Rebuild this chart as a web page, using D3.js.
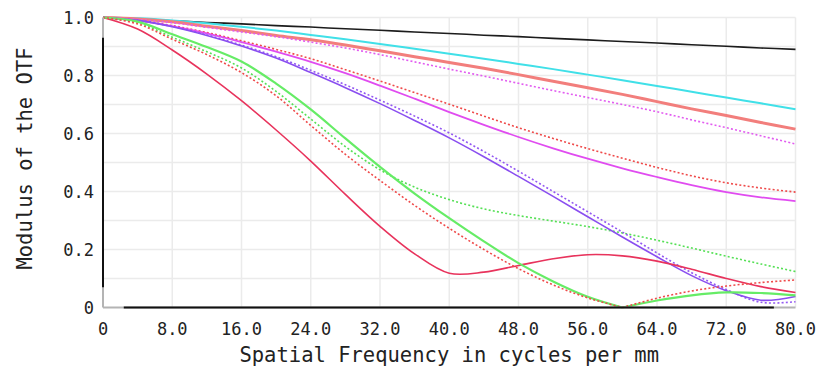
<!DOCTYPE html>
<html>
<head>
<meta charset="utf-8">
<script src="https://cdn.jsdelivr.net/npm/d3@7"></script>
<style>
  html, body { margin: 0; padding: 0; background: #fff; }
  svg { display: block; font-family: "DejaVu Sans Mono", monospace; }
</style>
</head>
<body>
<div id="chart"></div>
<script>
/* MTF plot – modulus of the OTF vs spatial frequency */

/* ── Data ────────────────────────────────────────────────────────────── */
const freq = [0, 4, 8, 12, 16, 20, 24, 28, 32, 36, 40, 44, 48, 52, 56, 60, 64, 68, 72, 76, 80];

const diffLimit  = [1, 0.994, 0.989, 0.983, 0.978, 0.972, 0.967, 0.961, 0.956, 0.950, 0.945, 0.939, 0.934, 0.928, 0.923, 0.917, 0.912, 0.906, 0.901, 0.895, 0.890];
const cyanT      = [1, 0.997, 0.990, 0.980, 0.968, 0.955, 0.940, 0.925, 0.909, 0.892, 0.875, 0.858, 0.840, 0.822, 0.803, 0.784, 0.764, 0.744, 0.724, 0.704, 0.684];
const salmonT    = [1, 0.995, 0.985, 0.970, 0.955, 0.938, 0.923, 0.905, 0.885, 0.865, 0.845, 0.825, 0.803, 0.780, 0.758, 0.735, 0.710, 0.685, 0.662, 0.638, 0.615];
const magentaS   = [1, 0.993, 0.982, 0.966, 0.950, 0.934, 0.915, 0.895, 0.872, 0.847, 0.822, 0.798, 0.773, 0.748, 0.724, 0.700, 0.675, 0.647, 0.620, 0.592, 0.564];
const redS1      = [1, 0.990, 0.972, 0.948, 0.920, 0.890, 0.858, 0.820, 0.781, 0.741, 0.701, 0.660, 0.620, 0.583, 0.548, 0.515, 0.483, 0.454, 0.430, 0.412, 0.398];
const magentaT   = [1, 0.990, 0.970, 0.945, 0.915, 0.882, 0.847, 0.808, 0.765, 0.720, 0.674, 0.630, 0.588, 0.549, 0.513, 0.480, 0.450, 0.422, 0.398, 0.380, 0.367];
const purpleT    = [1, 0.990, 0.968, 0.938, 0.902, 0.860, 0.810, 0.758, 0.703, 0.645, 0.585, 0.520, 0.452, 0.383, 0.313, 0.243, 0.175, 0.110, 0.058, 0.025, 0.038];
const purpleS    = [1, 0.990, 0.969, 0.940, 0.905, 0.865, 0.818, 0.768, 0.715, 0.660, 0.602, 0.538, 0.470, 0.400, 0.330, 0.260, 0.188, 0.120, 0.062, 0.018, 0.020];
const greenT     = [1, 0.986, 0.942, 0.898, 0.848, 0.772, 0.683, 0.583, 0.485, 0.393, 0.308, 0.228, 0.153, 0.090, 0.037, 0.000, 0.024, 0.042, 0.052, 0.050, 0.042];
const greenS     = [1, 0.982, 0.932, 0.882, 0.826, 0.745, 0.650, 0.555, 0.475, 0.415, 0.372, 0.340, 0.317, 0.298, 0.279, 0.257, 0.232, 0.205, 0.177, 0.150, 0.124];
const redS2      = [1, 0.978, 0.925, 0.872, 0.810, 0.730, 0.628, 0.528, 0.438, 0.352, 0.273, 0.200, 0.134, 0.078, 0.033, 0.000, 0.032, 0.057, 0.074, 0.086, 0.095];
const crimsonT   = [1, 0.960, 0.888, 0.805, 0.713, 0.612, 0.505, 0.390, 0.280, 0.185, 0.118, 0.122, 0.145, 0.168, 0.182, 0.178, 0.160, 0.132, 0.100, 0.072, 0.052];

const xTicks = [0, 8, 16, 24, 32, 40, 48, 56, 64, 72, 80];
const yTicks = [0, 0.2, 0.4, 0.6, 0.8, 1.0];
const yGrid  = [0.1, 0.2, 0.3, 0.4, 0.5, 0.6, 0.7, 0.8, 0.9, 1.0];

// draw order: back to front
const series = [
  { values: diffLimit, color: '#1c1c1c', width: 1.6 },
  { values: cyanT,     color: '#40e0e8', width: 2 },
  { values: salmonT,   color: '#f27e7c', width: 3 },
  { values: magentaS,  color: '#e25cf0', width: 1.6, dash: '2,2.2' },
  { values: redS1,     color: '#ef4a4a', width: 1.6, dash: '2,2.2' },
  { values: magentaT,  color: '#e04cf0', width: 1.8 },
  { values: greenS,    color: '#55e055', width: 1.6, dash: '2,2.2' },
  { values: purpleS,   color: '#9358f2', width: 1.6, dash: '2,2.2' },
  { values: purpleT,   color: '#8a4ef0', width: 1.6 },
  { values: crimsonT,  color: '#e8335c', width: 1.6 },
  { values: greenT,    color: '#66ec66', width: 2.2, kink: 60 },
  { values: redS2,     color: '#ef4a4a', width: 1.6, dash: '2,2.2', kink: 60 }
];

/* ── Layout ──────────────────────────────────────────────────────────── */
const TW = 817, TH = 366;
const X0 = 103, X1 = 795.5, Y0 = 307.5, Y1 = 17.5;

const x = d3.scaleLinear().domain([0, 80]).range([X0, X1]);
const y = d3.scaleLinear().domain([0, 1]).range([Y0, Y1]);

const svg = d3.select('#chart').append('svg')
  .attr('width', TW).attr('height', TH);

/* ── Grid ────────────────────────────────────────────────────────────── */
const grid = svg.append('g').attr('stroke', '#ebebeb').attr('stroke-width', 1.5);
grid.selectAll('line.v').data(xTicks.slice(1)).join('line')
  .attr('class', 'v')
  .attr('x1', d => x(d)).attr('x2', d => x(d))
  .attr('y1', y(0)).attr('y2', y(1));
grid.selectAll('line.h').data(yGrid).join('line')
  .attr('class', 'h')
  .attr('x1', x(0)).attr('x2', x(80))
  .attr('y1', d => y(d)).attr('y2', d => y(d));

/* ── Curves ──────────────────────────────────────────────────────────── */
const line = d3.line()
  .x(d => x(d[0]))
  .y(d => y(d[1]))
  .curve(d3.curveCatmullRom.alpha(0.5));

// split a series at its zero crossing so the V keeps a sharp corner
function segments(s) {
  const pts = freq.map((f, i) => [f, s.values[i]]);
  if (s.kink == null) return [pts];
  return [pts.filter(p => p[0] <= s.kink), pts.filter(p => p[0] >= s.kink)];
}

const curves = svg.append('g').attr('fill', 'none');
series.forEach(s => {
  segments(s).forEach(seg => {
    curves.append('path')
      .attr('d', line(seg))
      .attr('stroke', s.color)
      .attr('stroke-width', s.width)
      .attr('stroke-dasharray', s.dash || null)
      .attr('stroke-linejoin', 'round');
  });
});

/* ── Frame (grey ends, black middle) ─────────────────────────────────── */
const frame = svg.append('g').attr('stroke-width', 2);
frame.append('line').attr('stroke', '#b4b4b4')
  .attr('x1', x(0)).attr('x2', x(80)).attr('y1', y(0)).attr('y2', y(0));
frame.append('line').attr('stroke', '#111')
  .attr('x1', x(2.4)).attr('x2', x(77.5)).attr('y1', y(0)).attr('y2', y(0));
frame.append('line').attr('stroke', '#b4b4b4')
  .attr('x1', x(0)).attr('x2', x(0)).attr('y1', y(0)).attr('y2', y(1));
frame.append('line').attr('stroke', '#111')
  .attr('x1', x(0)).attr('x2', x(0)).attr('y1', y(0.07)).attr('y2', y(0.93));

/* ── Tick labels ─────────────────────────────────────────────────────── */
svg.append('g').selectAll('text').data(xTicks).join('text')
  .attr('x', d => x(d)).attr('y', 335)
  .attr('text-anchor', 'middle')
  .attr('font-size', 17).attr('fill', '#222')
  .text(d => d === 0 ? '0' : d3.format('.1f')(d));

svg.append('g').selectAll('text').data(yTicks).join('text')
  .attr('x', 94).attr('y', d => y(d)).attr('dy', '0.36em')
  .attr('text-anchor', 'end')
  .attr('font-size', 17).attr('fill', '#222')
  .text(d => d === 0 ? '0' : d3.format('.1f')(d));

/* ── Axis titles ─────────────────────────────────────────────────────── */
svg.append('text')
  .attr('x', (X0 + X1) / 2).attr('y', 362)
  .attr('text-anchor', 'middle')
  .attr('font-size', 20.5).attr('fill', '#222')
  .text('Spatial Frequency in cycles per mm');

svg.append('text')
  .attr('transform', `translate(32,${(Y0 + Y1) / 2 - 4}) rotate(-90)`)
  .attr('text-anchor', 'middle')
  .attr('font-size', 20.5).attr('fill', '#222')
  .text('Modulus of the OTF');
</script>
</body>
</html>
